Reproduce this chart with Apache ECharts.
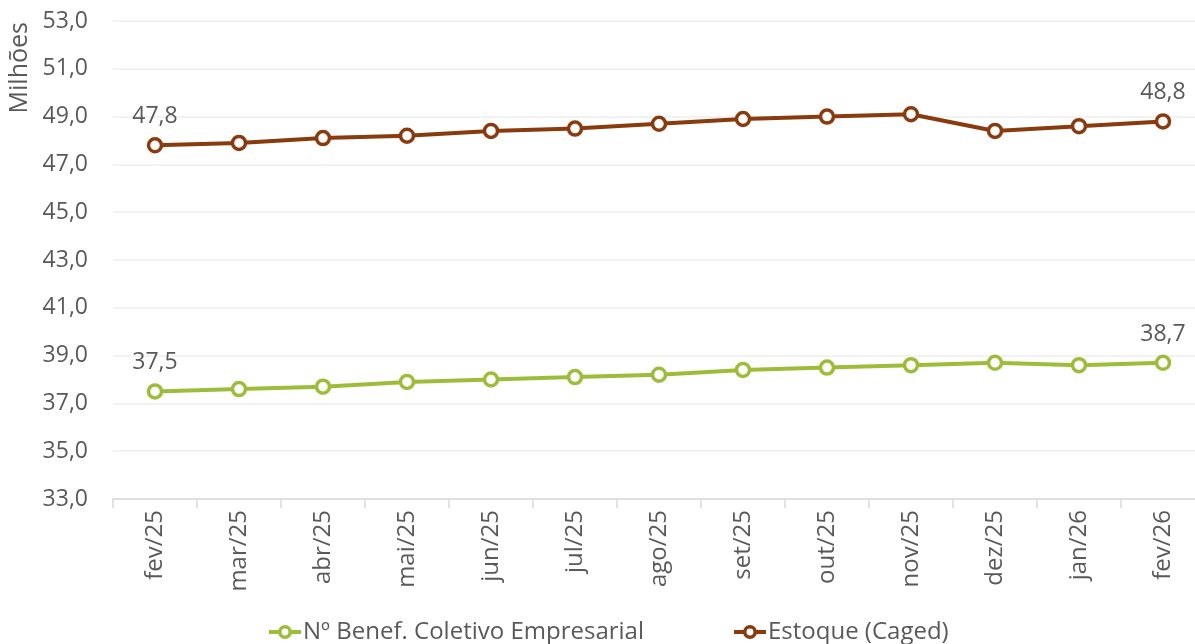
<!DOCTYPE html>
<html>
<head>
<meta charset="utf-8">
<script src="https://cdn.jsdelivr.net/npm/echarts@6/dist/echarts.min.js"></script>
<style>
    html, body { margin: 0; padding: 0; background: #fff; overflow: hidden; }
    /* the reference plot runs a few pixels past the right edge of the picture */
    #chart { width: 1205px; height: 644px; }
</style>
</head>
<body>
<div id="chart"></div>
<script>
    // meses
    var categories = ['fev/25', 'mar/25', 'abr/25', 'mai/25', 'jun/25', 'jul/25', 'ago/25',
        'set/25', 'out/25', 'nov/25', 'dez/25', 'jan/26', 'fev/26'];
    // Nº Benef. Coletivo Empresarial (milhões)
    var benefColetivo = [37.5, 37.6, 37.7, 37.9, 38.0, 38.1, 38.2, 38.4, 38.5, 38.6, 38.7, 38.6, 38.7];
    // Estoque (Caged) (milhões)
    var estoqueCaged = [47.8, 47.9, 48.1, 48.2, 48.4, 48.5, 48.7, 48.9, 49.0, 49.1, 48.4, 48.6, 48.8];
    var yTicks = [33, 35, 37, 39, 41, 43, 45, 47, 49, 51, 53];

    var fontFam = '"Open Sans", "Noto Sans", sans-serif';
    var textColor = '#595959';

    function virgula(v) {
        return Number(v).toFixed(1).replace('.', ',');
    }

    // só o primeiro e o último ponto recebem rótulo
    function labelEnds(p) {
        if (p.dataIndex === 0 || p.dataIndex === categories.length - 1) {
            return virgula(p.value);
        }
        return '';
    }

    function serie(nome, dados, cor) {
        return {
            name: nome,
            type: 'line',
            data: dados,
            symbol: 'circle',
            symbolSize: 13,
            showAllSymbol: true,
            lineStyle: { color: cor, width: 4 },
            itemStyle: { color: '#ffffff', borderColor: cor, borderWidth: 3.5 },
            label: {
                show: true,
                position: 'top',
                distance: 9,
                formatter: labelEnds,
                color: textColor,
                fontSize: 23,
                fontFamily: fontFam
            },
            emphasis: { disabled: true },
            z: 3
        };
    }

    var chart = echarts.init(document.getElementById('chart'));
    chart.setOption({
        animation: false,
        backgroundColor: '#ffffff',
        grid: {
            left: 113,
            right: 0,
            top: 21,
            bottom: 145,
            containLabel: false
        },
        legend: {
            top: 620,
            left: 267,
            padding: 0,
            itemWidth: 32,
            itemHeight: 13,
            itemGap: 88,
            lineStyle: { width: 4 },
            itemStyle: { borderWidth: 3.5 },
            textStyle: { color: textColor, fontSize: 24, fontFamily: fontFam, padding: [0, 0, 0, -3] },
            data: ['Nº Benef. Coletivo Empresarial', 'Estoque (Caged)']
        },
        xAxis: {
            type: 'category',
            data: categories,
            boundaryGap: true,
            axisLine: { lineStyle: { color: '#d9d9d9', width: 1.5 } },
            axisTick: { show: true, length: 9, lineStyle: { color: '#d9d9d9', width: 1.5 } },
            axisLabel: {
                rotate: 90,
                interval: 0,
                margin: 11,
                color: textColor,
                fontSize: 24,
                fontFamily: fontFam
            },
            splitLine: { show: false }
        },
        yAxis: {
            type: 'value',
            min: yTicks[0],
            max: yTicks[yTicks.length - 1],
            interval: 2,
            axisLine: { show: false },
            axisTick: { show: false },
            axisLabel: {
                margin: 25,
                color: textColor,
                fontSize: 23,
                fontFamily: fontFam,
                formatter: virgula
            },
            splitLine: { lineStyle: { color: '#eeeeee', width: 1.5 } }
        },
        graphic: [{
            type: 'text',
            left: 7,
            top: 22,
            rotation: Math.PI / 2,
            style: {
                text: 'Milhões',
                fill: textColor,
                font: '25px ' + fontFam
            }
        }],
        series: [
            serie('Nº Benef. Coletivo Empresarial', benefColetivo, '#9dbd3a'),
            serie('Estoque (Caged)', estoqueCaged, '#8a3b0e')
        ]
    });
</script>
</body>
</html>
